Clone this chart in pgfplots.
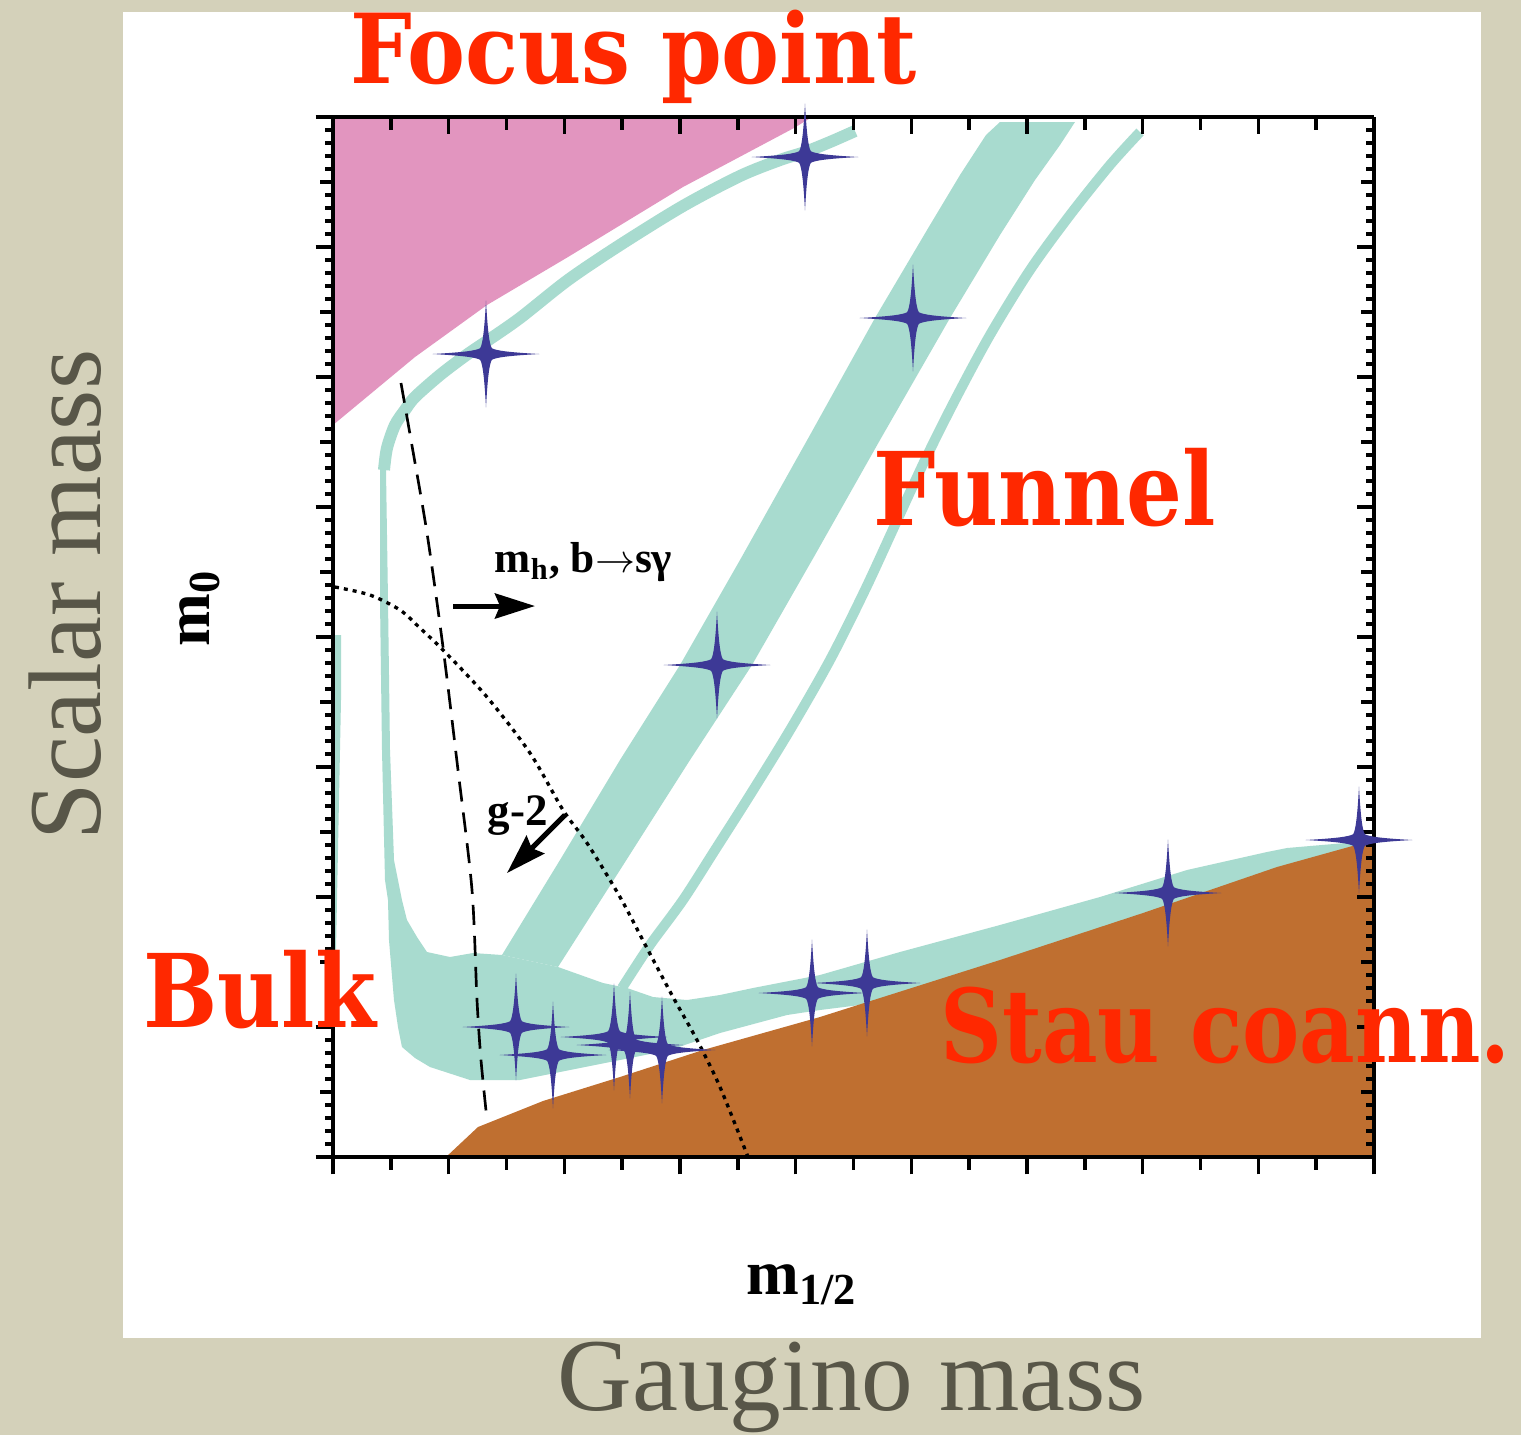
\documentclass[border=0pt]{standalone}
\usepackage{pgfplots}
\pgfplotsset{compat=1.18}
\usepackage{fontspec}
\setmainfont{Liberation Serif}
\newfontfamily\dvs{DejaVu Serif}
\usetikzlibrary{arrows.meta}
\definecolor{bgbeige}{RGB}{212,209,186}
\definecolor{pinkr}{RGB}{226,149,191}
\definecolor{stau}{RGB}{191,111,48}
\definecolor{tealg}{RGB}{168,219,207}
\definecolor{starblue}{RGB}{61,57,150}
\definecolor{lblred}{RGB}{255,40,0}
\definecolor{olive}{RGB}{88,86,72}

\pgfdeclareplotmark{star4}{%
 \pgfpathmoveto{\pgfqpoint{0pt}{16pt}}%
 \pgfpathcurveto{\pgfqpoint{0.5pt}{7pt}}{\pgfqpoint{1.0pt}{3pt}}{\pgfqpoint{1.75pt}{1.75pt}}%
 \pgfpathcurveto{\pgfqpoint{3pt}{1.0pt}}{\pgfqpoint{7pt}{0.5pt}}{\pgfqpoint{16pt}{0pt}}%
 \pgfpathcurveto{\pgfqpoint{7pt}{-0.5pt}}{\pgfqpoint{3pt}{-1.0pt}}{\pgfqpoint{1.75pt}{-1.75pt}}%
 \pgfpathcurveto{\pgfqpoint{1.0pt}{-3pt}}{\pgfqpoint{0.5pt}{-7pt}}{\pgfqpoint{0pt}{-16pt}}%
 \pgfpathcurveto{\pgfqpoint{-0.5pt}{-7pt}}{\pgfqpoint{-1.0pt}{-3pt}}{\pgfqpoint{-1.75pt}{-1.75pt}}%
 \pgfpathcurveto{\pgfqpoint{-3pt}{-1.0pt}}{\pgfqpoint{-7pt}{-0.5pt}}{\pgfqpoint{-16pt}{0pt}}%
 \pgfpathcurveto{\pgfqpoint{-7pt}{0.5pt}}{\pgfqpoint{-3pt}{1.0pt}}{\pgfqpoint{-1.75pt}{1.75pt}}%
 \pgfpathcurveto{\pgfqpoint{-1.0pt}{3pt}}{\pgfqpoint{-0.5pt}{7pt}}{\pgfqpoint{0pt}{16pt}}%
 \pgfpathclose
 \pgfusepathqfill
}

\pgfplotsset{
  cmssm/.style={
    at={(99.9pt,-347.1pt)}, anchor=south west,
    scale only axis, width=312.3pt, height=312pt,
    xmin=0, xmax=1041, ymin=0, ymax=1040,
    xtick={0,115.67,231.33,347,462.67,578.33,694,809.67,925.33,1041},
    ytick={0,130,260,390,520,650,780,910,1040},
    minor tick num=9,
    extra x ticks={57.83,173.5,289.17,404.83,520.5,636.17,751.83,867.5,983.17},
    extra y ticks={65,195,325,455,585,715,845,975},
    extra tick style={major tick length=3.8pt},
    xticklabel=\empty, yticklabel=\empty,
    tick label style={text opacity=0},
    major tick length=5.2pt, minor tick length=2.3pt,
    tick style={black, line width=1.05pt},
    clip=false,
  }
}

\begin{document}
\begin{tikzpicture}
\begin{scope}[x=0.3pt,y=-0.3pt]
\fill[bgbeige] (0,0) rectangle (1521,1435);
\fill[white] (123,12) rectangle (1481,1338);
\end{scope}

% ---------- main axis: regions and curves ----------
\begin{axis}[cmssm,
  axis x line=bottom, axis y line=left,
  axis line style={-, line width=1.3pt},
  tick align=outside,
  axis on top]
% no EWSB (focus point boundary)
\addplot[draw=none, fill=pinkr] coordinates {
 (0,1040) (479,1040) (461,1029) (350,970) (235,900) (154,852) (82,800) (0,732)} --cycle;
% bulk + coannihilation + thin vertical branch
\addplot[draw=none, fill=tealg] coordinates {
 (47,702) (47,557) (49,407) (52,277) (55,257) (56,217) (61,157) (65,130) (69,110)
 (82,99) (97,90) (137,77) (187,77) (237,87) (287,97) (337,107) (387,124) (454,142)
 (487,147) (567,157) (667,182) (810,229) (944,275) (1041,302) (1041,319) (1024,315)
 (977,311) (954,309) (934,305) (854,287) (767,260) (667,232) (567,205) (487,182)
 (420,169) (387,162) (354,157) (320,160) (294,169) (270,174) (225,190) (169,202)
 (140,204) (117,200) (94,205) (84,220) (74,237) (69,257) (61,297) (57,407) (55,557)
 (53,687) (51,702)} --cycle;
% thin strip along left edge
\addplot[draw=none, fill=tealg] coordinates {
 (0,522) (8,522) (8,457) (6,357) (4,257) (2,157) (0,157)} --cycle;
% funnel (wide band)
\addplot[draw=none, fill=tealg] coordinates {
 (169,202) (227,297) (287,397) (347,492) (407,597) (477,722) (542,839) (597,932)
 (627,982) (653,1022) (667,1035) (742,1035) (727,1012) (702,977) (667,922) (617,839)
 (547,717) (482,602) (419,492) (357,397) (287,287) (225,190)} --cycle;
% funnel (thin branch)
\addplot[tealg, line width=3pt, smooth] coordinates {
 (289,169) (317,212) (350,257) (382,307) (417,362) (457,427) (497,497) (532,567)
 (562,632) (592,697) (622,757) (657,822) (697,887) (737,942) (777,992) (807,1025)};
% focus-point strip
\addplot[tealg, line width=3.6pt, smooth] coordinates {
 (51,687) (54,709) (62,732) (72,747) (82,760) (107,782) (132,801) (154,816) (187,839)
 (235,877) (287,912) (350,951) (407,981) (447,997) (472,1005) (497,1015) (522,1026)};
% charged LSP (stau) region
\addplot[draw=none, fill=stau] coordinates {
 (113,0) (145,30) (210,56) (287,80) (370,107) (487,140) (667,197) (810,244) (944,290)
 (1041,317) (1041,0)} --cycle;
% m_h, b -> s gamma bound
\addplot[black, line width=0.8pt, dash pattern=on 6pt off 3.3pt, smooth] coordinates {
 (68,774) (78,717) (94,624) (110,510) (125,387) (139,267) (144,157) (148,97) (154,37)};
% g-2 bound
\addplot[black, line width=1pt, dash pattern=on 1.2pt off 1.5pt, smooth] coordinates {
 (2,570) (37,562) (67,547) (87,529) (112,505) (154,460) (197,404) (230,347) (254,314)
 (287,260) (315,207) (340,160) (364,117) (387,70) (415,0)};
\end{axis}

% ---------- top/right frame and benchmark points ----------
\begin{axis}[cmssm,
  axis x line=top, axis y line=right,
  axis line style={-, line width=1.3pt},
  tick align=inside]
\addplot[only marks, mark=star4, color=starblue] coordinates {
 (153,803) (472,1000) (580,839) (384,492) (835,264) (1026,317) (479,164) (534,174)
 (183,130) (220,102) (281,120) (297,112) (329,107)};
\end{axis}

% ---------- annotations ----------
\begin{scope}[x=0.3pt,y=-0.3pt]
\draw[line width=1.5pt, -{Stealth[length=12pt,width=7.5pt,inset=1.5pt]}] (453,606) -- (535,606);
\draw[line width=1.5pt, -{Stealth[length=12pt,width=7.5pt,inset=1.5pt]}] (565,815) -- (507,873);
\node[anchor=base west, inner sep=0, font=\bfseries\fontsize{13}{15}\selectfont] at (494,572)
  {m\textsubscript{h}, b$\rightarrow$sγ};
\node[anchor=base west, inner sep=0, font=\bfseries\fontsize{13.5}{15}\selectfont] at (487,825) {g-2};
\node[rotate=90, inner sep=0, font=\bfseries\fontsize{19}{21}\selectfont] at (200,608) {m\textsubscript{0}};
\node[inner sep=0, font=\bfseries\fontsize{19}{21}\selectfont] at (802,1285) {m\textsubscript{1/2}};
\node[anchor=base west, inner sep=0, text=olive, font=\fontsize{31}{33}\selectfont] at (557,1410) {Gaugino mass};
\node[anchor=base, rotate=90, inner sep=0, text=olive, font=\fontsize{31}{33}\selectfont] at (100,595) {Scalar mass};
\node[anchor=base west, inner sep=0, xscale=0.9, text=lblred, font=\dvs\bfseries\fontsize{29}{31}\selectfont] at (350,83) {Focus point};
\node[anchor=base west, inner sep=0, xscale=0.865, text=lblred, font=\dvs\bfseries\fontsize{30.5}{32}\selectfont] at (873,525) {Funnel};
\node[anchor=base west, inner sep=0, xscale=0.865, text=lblred, font=\dvs\bfseries\fontsize{30.5}{32}\selectfont] at (143,1027) {Bulk};
\node[anchor=base west, inner sep=0, xscale=0.845, text=lblred, font=\dvs\bfseries\fontsize{30.5}{32}\selectfont] at (940,1062) {Stau coann.};
\end{scope}
\end{tikzpicture}
\end{document}
